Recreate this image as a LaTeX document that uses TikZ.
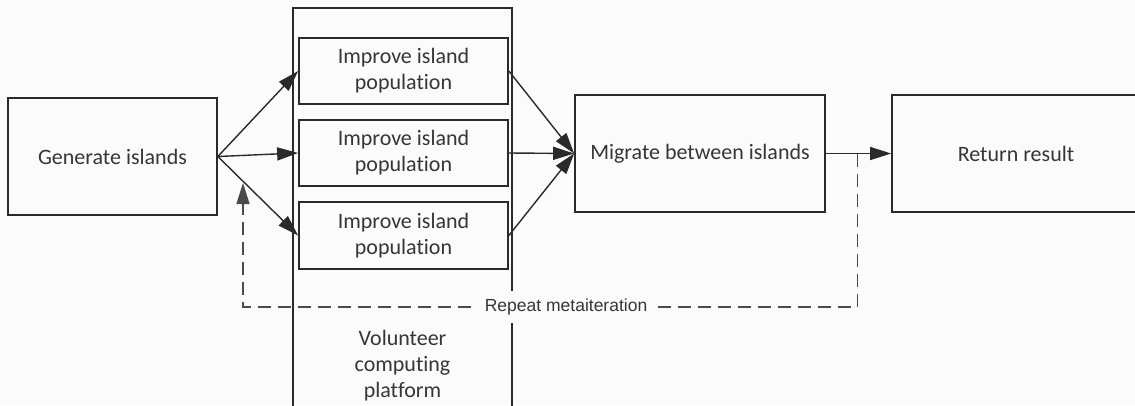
\documentclass[tikz,border=0pt]{standalone}
\usepackage{fontspec}
\setmainfont{Carlito}[Ligatures={NoCommon}]
\newfontfamily\labelfont{Liberation Sans}
\usetikzlibrary{arrows.meta,calc}
\definecolor{ink}{HTML}{2A2A2A}
\definecolor{txt}{HTML}{363636}
\definecolor{paper}{HTML}{FBFBFB}
\tikzset{
  box/.style={draw=ink, line width=1.7pt, inner sep=0pt, align=center,
    text=txt, font=\fontsize{22}{26}\selectfont},
  flow/.style={draw=ink, line width=1.4pt,
    -{Triangle[length=21pt,width=13pt]}},
  loopback/.style={draw=ink!85, line width=1.4pt, dash pattern=on 13pt off 7pt,
    -{Triangle[length=21pt,width=13pt]}},
  looplabel/.style={fill=paper, text=txt, inner xsep=8pt, inner ysep=8pt,
    font=\labelfont\fontsize{17.5}{20}\selectfont},
}
\begin{document}
\begin{tikzpicture}[x=1pt,y=-1pt]
\useasboundingbox (0,0) rectangle (1135,405);
\fill[paper] (0,0) rectangle (1135,405);
\clip (0,0) rectangle (1135,405);

% platform container, open at the bottom edge
\node[box, minimum width=219pt, minimum height=422pt] (platform) at (402.5,219) {};
\node[text=txt, align=center, font=\fontsize{22}{26}\selectfont] (platformtext) at (402.5,366)
  {Volunteer\\computing\\platform};

% process steps
\node[box, minimum width=209pt, minimum height=117pt] (gen) at (112.5,156.5) {Generate islands};
\node[box, minimum width=209pt, minimum height=66pt] (isl1) at (403.5,71) {Improve island\\population};
\node[box, minimum width=209pt, minimum height=66pt] (isl2) at (403.5,153) {Improve island\\population};
\node[box, minimum width=209pt, minimum height=67pt] (isl3) at (403.5,235.5) {Improve island\\population};
\node[box, minimum width=250pt, minimum height=117pt] (mig) at (700,153.5) {Migrate between islands};
\node[box, minimum width=248pt, minimum height=117pt] (ret) at (1016,153.5) {Return result};

% fan out to the islands
\draw[flow] (gen.east) -- (isl1.west);
\draw[flow] (gen.east) -- (isl2.west);
\draw[flow] (gen.east) -- (isl3.west);

% gather for migration
\draw[flow] (isl1.east) -- (mig.west);
\draw[flow] (isl2.east) -- (mig.west);
\draw[flow] (isl3.east) -- (mig.west);

\draw[flow] (mig.east) -- (ret.west);

% repeat loop back to the island generation
\coordinate (split) at ($(mig.east)!0.48!(ret.west)$);
\coordinate (back) at (243,183);
\draw[loopback] (split) -- (split |- 0,307) -- node[pos=0.474, looplabel] {Repeat metaiteration} (back |- 0,307) -- (back);
\end{tikzpicture}
\end{document}
